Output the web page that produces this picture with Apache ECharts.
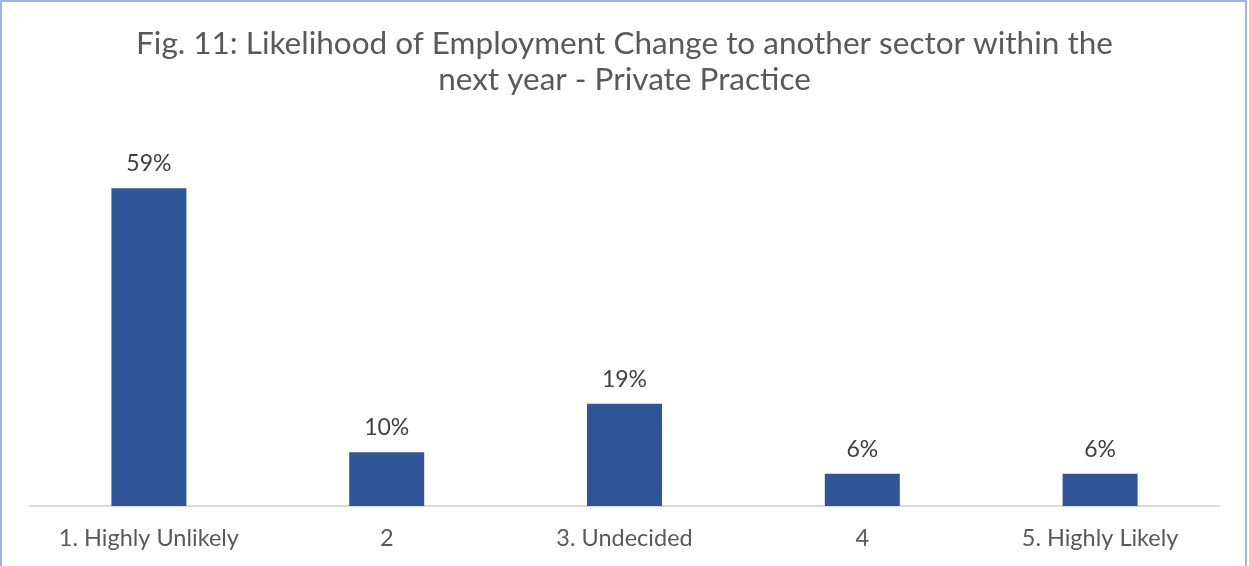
<!DOCTYPE html>
<html>
<head>
<meta charset="utf-8">
<script src="https://cdn.jsdelivr.net/npm/echarts@6/dist/echarts.min.js"></script>
<style>
  html, body { margin: 0; padding: 0; background: #ffffff; }
  #frame {
    position: absolute; left: 0; top: 0; width: 1247px; height: 566px;
    box-sizing: border-box;
    border: 2px solid #9fb4da; border-bottom: none;
  }
  #chart { position: absolute; left: 0; top: 0; width: 1249px; height: 566px; }
</style>
</head>
<body>
<div id="frame"></div>
<div id="chart"></div>
<script>
const titleText = 'Fig. 11: Likelihood of Employment Change to another sector within the\nnext year - Private Practice';
const categories = ['1. Highly Unlikely', '2', '3. Undecided', '4', '5. Highly Likely'];
const shares = [59, 10, 19, 6, 6];

const chart = echarts.init(document.getElementById('chart'), null, { renderer: 'canvas' });
chart.setOption({
  animation: false,
  title: {
    text: titleText,
    left: 'center',
    top: 21,
    textStyle: {
      fontFamily: 'Lato',
      fontSize: 31.5,
      fontWeight: 'normal',
      color: '#595959',
      lineHeight: 36,
      align: 'center'
    }
  },
  grid: { left: 30, right: 30, top: 129, bottom: 60 },
  xAxis: {
    type: 'category',
    data: categories,
    axisLine: { lineStyle: { color: '#d9d9d9', width: 2 } },
    axisTick: { show: false },
    axisLabel: {
      fontFamily: 'Lato',
      fontSize: 23.5,
      color: '#595959',
      margin: 20
    }
  },
  yAxis: {
    type: 'value',
    min: 0,
    max: 70,
    show: false,
    splitLine: { show: false }
  },
  series: [{
    type: 'bar',
    data: shares,
    barWidth: 75,
    itemStyle: { color: '#2f5597' },
    label: {
      show: true,
      position: 'top',
      distance: 13,
      formatter: p => p.value + '%',
      fontFamily: 'Lato',
      fontSize: 23,
      color: '#404040'
    }
  }]
});
</script>
</body>
</html>
